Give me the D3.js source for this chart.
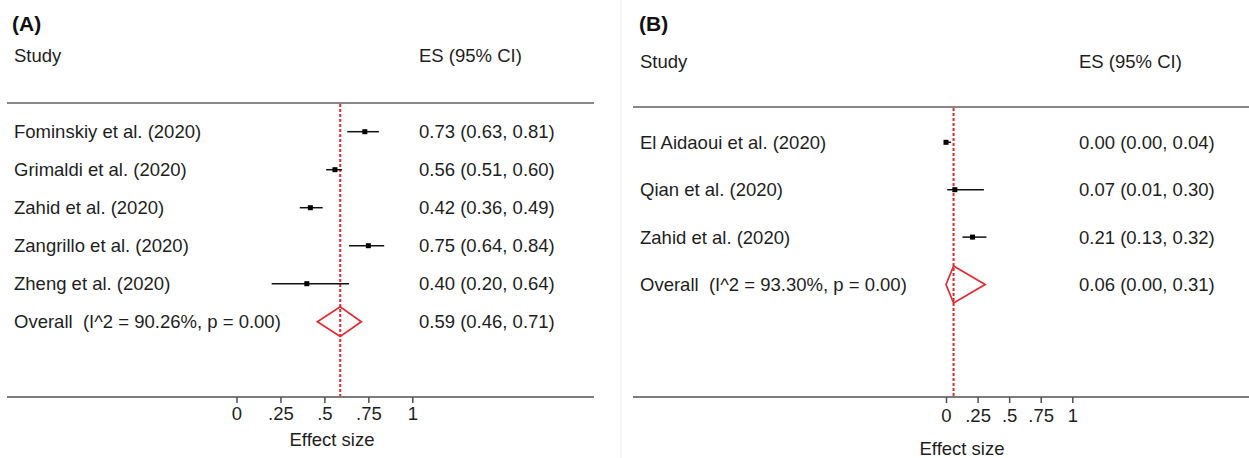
<!DOCTYPE html>
<html>
<head>
<meta charset="utf-8">
<script src="https://cdn.jsdelivr.net/npm/d3@7"></script>
<style>
  html, body { margin: 0; padding: 0; background: #fff; }
  svg { display: block; }
  text { font-family: "Liberation Sans", Arial, sans-serif; fill: #1e1e1e; white-space: pre; }
</style>
</head>
<body>
<svg id="chart" width="1249" height="458"></svg>
<script>
// ---------------- DATA ----------------
const studiesA = ["Fominskiy et al. (2020)", "Grimaldi et al. (2020)", "Zahid et al. (2020)", "Zangrillo et al. (2020)", "Zheng et al. (2020)"];
const esA   = [0.73, 0.56, 0.42, 0.75, 0.40];
const lowA  = [0.63, 0.51, 0.36, 0.64, 0.20];
const highA = [0.81, 0.60, 0.49, 0.84, 0.64];
const overallA = [0.59, 0.46, 0.71];          // ES, low, high
const overallLabelA = "Overall  (I^2 = 90.26%, p = 0.00)";

const studiesB = ["El Aidaoui et al. (2020)", "Qian et al. (2020)", "Zahid et al. (2020)"];
const esB   = [0.00, 0.07, 0.21];
const lowB  = [0.00, 0.01, 0.13];
const highB = [0.04, 0.30, 0.32];
const overallB = [0.06, 0.00, 0.31];
const overallLabelB = "Overall  (I^2 = 93.30%, p = 0.00)";

const tickValues = [0, 0.25, 0.5, 0.75, 1];
const tickLabels = ["0", ".25", ".5", ".75", "1"];
const panelTitles = ["(A)", "(B)"];
const colHeaders = ["Study", "ES (95% CI)"];
const xAxisTitle = "Effect size";

// ---------------- LAYOUT ----------------
const svg = d3.select("#chart");
const FS = 18.5;
const RED = "#e42a31";
const fmt = d3.format(".2f");

// faint panel separator
svg.append("line").attr("x1", 621).attr("x2", 621).attr("y1", 0).attr("y2", 458)
  .attr("stroke", "#ededed").attr("stroke-width", 1);

const panels = [
  { title: panelTitles[0], studies: studiesA, es: esA, lo: lowA, hi: highA, overall: overallA, overallLabel: overallLabelA,
    xr: [236.5, 412.3], row0: 131.7, step: 38, headerY: 103, axisY: 397,
    lineX: [7, 594], labelX: 14, esX: 419, titleX: 12, titleY: 31, studyY: 62,
    tickPad: 4, xTitleX: 332, xTitleY: 446 },
  { title: panelTitles[1], studies: studiesB, es: esB, lo: lowB, hi: highB, overall: overallB, overallLabel: overallLabelB,
    xr: [946, 1072.3], row0: 142.3, step: 47.4, headerY: 107, axisY: 397,
    lineX: [633, 1249], labelX: 640, esX: 1079, titleX: 639, titleY: 31, studyY: 68,
    tickPad: 5.5, xTitleX: 962, xTitleY: 455 }
];

panels.forEach(p => {
  const g = svg.append("g");
  const x = d3.scaleLinear().domain([0, 1]).range(p.xr);
  const n = p.studies.length;
  const y = d3.scaleLinear().domain([0, 1]).range([p.row0, p.row0 + p.step]);

  // panel title
  g.append("text").attr("x", p.titleX).attr("y", p.titleY)
    .style("font-size", "21px").style("font-weight", "bold").style("fill", "#111").text(p.title);

  // column headers
  g.append("text").attr("x", p.labelX).attr("y", p.studyY).style("font-size", FS + "px").text(colHeaders[0]);
  g.append("text").attr("x", p.esX).attr("y", p.studyY).style("font-size", FS + "px").text(colHeaders[1]);

  // header rule and axis rule
  g.append("line").attr("x1", p.lineX[0]).attr("x2", p.lineX[1]).attr("y1", p.headerY).attr("y2", p.headerY)
    .attr("stroke", "#606060").attr("stroke-width", 1.6);
  g.append("line").attr("x1", p.lineX[0]).attr("x2", p.lineX[1]).attr("y1", p.axisY).attr("y2", p.axisY)
    .attr("stroke", "#505050").attr("stroke-width", 1.6);

  // dashed overall line
  g.append("line").attr("x1", x(p.overall[0])).attr("x2", x(p.overall[0]))
    .attr("y1", p.headerY + 1).attr("y2", p.axisY - 1)
    .attr("stroke", RED).attr("stroke-width", 2).attr("stroke-dasharray", "3,2");

  // study rows
  const rows = p.studies.map((s, i) => ({ s, es: p.es[i], lo: p.lo[i], hi: p.hi[i], i }));
  g.selectAll("text.study").data(rows).join("text").attr("class", "study")
    .attr("x", p.labelX).attr("y", d => y(d.i)).attr("dy", "0.35em")
    .style("font-size", FS + "px").text(d => d.s);
  g.selectAll("text.esval").data(rows).join("text").attr("class", "esval")
    .attr("x", p.esX).attr("y", d => y(d.i)).attr("dy", "0.35em")
    .style("font-size", FS + "px").text(d => `${fmt(d.es)} (${fmt(d.lo)}, ${fmt(d.hi)})`);
  g.selectAll("line.ci").data(rows).join("line").attr("class", "ci")
    .attr("x1", d => x(d.lo)).attr("x2", d => x(d.hi)).attr("y1", d => y(d.i)).attr("y2", d => y(d.i))
    .attr("stroke", "#111").attr("stroke-width", 1.5);
  const sq = 5;
  g.selectAll("rect.pt").data(rows).join("rect").attr("class", "pt")
    .attr("x", d => x(d.es) - sq / 2).attr("y", d => y(d.i) - sq / 2)
    .attr("width", sq).attr("height", sq).attr("fill", "#000");

  // overall row
  const yo = y(n);
  const h = p.step * 0.39;
  g.append("text").attr("x", p.labelX).attr("y", yo).attr("dy", "0.35em")
    .attr("xml:space", "preserve")
    .style("font-size", FS + "px").text(p.overallLabel);
  g.append("text").attr("x", p.esX).attr("y", yo).attr("dy", "0.35em")
    .style("font-size", FS + "px").text(`${fmt(p.overall[0])} (${fmt(p.overall[1])}, ${fmt(p.overall[2])})`);
  const dpts = [[x(p.overall[1]), yo], [x(p.overall[0]), yo - h], [x(p.overall[2]), yo], [x(p.overall[0]), yo + h]];
  g.append("path").attr("d", d3.line()(dpts) + "Z")
    .attr("fill", "none").attr("stroke", RED).attr("stroke-width", 1.7).attr("stroke-linejoin", "miter");

  // x axis
  const axis = d3.axisBottom(x).tickValues(tickValues)
    .tickFormat((d, i) => tickLabels[i]).tickSize(6).tickPadding(p.tickPad);
  const ag = g.append("g").attr("transform", `translate(0,${p.axisY})`).call(axis);
  ag.select(".domain").remove();
  ag.selectAll(".tick line").attr("stroke", "#505050").attr("stroke-width", 1.5);
  ag.selectAll(".tick text").style("font-size", FS + "px")
    .style("font-family", '"Liberation Sans", Arial, sans-serif').attr("fill", "#1e1e1e");

  // axis title
  g.append("text").attr("x", p.xTitleX).attr("y", p.xTitleY).attr("text-anchor", "middle")
    .style("font-size", FS + "px").text(xAxisTitle);
});
</script>
</body>
</html>
